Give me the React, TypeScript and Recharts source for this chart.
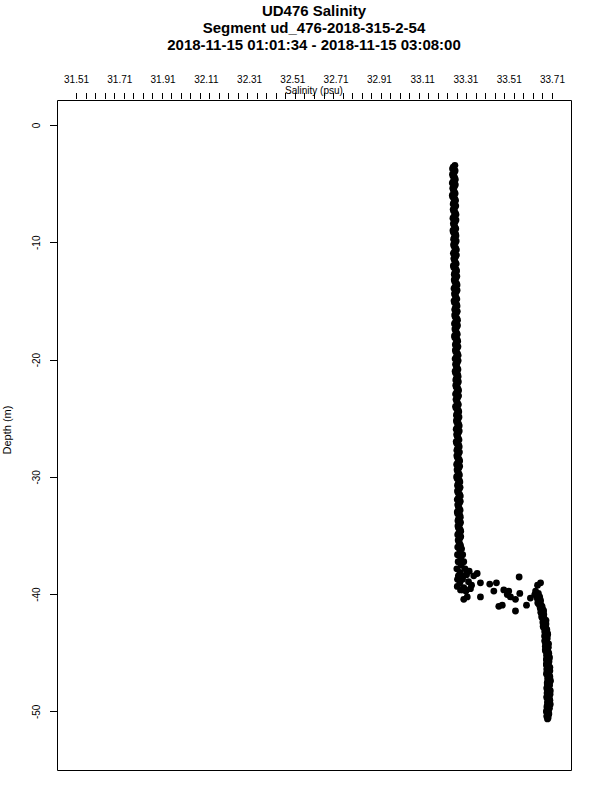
import { ScatterChart, Scatter, XAxis, YAxis, ReferenceArea } from 'recharts';

const titleLines = [
  'UD476 Salinity',
  'Segment ud_476-2018-315-2-54',
  '2018-11-15 01:01:34 - 2018-11-15 03:08:00'
];
const xTitle = 'Salinity (psu)';
const yTitle = 'Depth (m)';

const salinityLabels = [31.51, 31.71, 31.91, 32.11, 32.31, 32.51, 32.71, 32.91, 33.11, 33.31, 33.51, 33.71];
const depthTicks = [0, -10, -20, -30, -40, -50];

// upper mixed layer, nearly constant salinity (down cast)
const upperDepth = [
  -3.4, -3.7, -4.0, -4.3, -4.6, -4.9, -5.2, -5.5, -5.8, -6.1,
  -6.4, -6.7, -7.0, -7.3, -7.6, -7.9, -8.2, -8.5, -8.8, -9.1,
  -9.4, -9.7, -10.0, -10.3, -10.6, -10.9, -11.2, -11.5, -11.8, -12.1,
  -12.4, -12.7, -13.0, -13.3, -13.6, -13.9, -14.2, -14.5, -14.8, -15.1,
  -15.4, -15.7, -16.0, -16.3, -16.6, -16.9, -17.2, -17.5, -17.8, -18.1,
  -18.4, -18.7, -19.0, -19.3, -19.6, -19.9, -20.2, -20.5, -20.8, -21.1,
  -21.4, -21.7, -22.0, -22.3, -22.6, -22.9, -23.2, -23.5, -23.8, -24.1,
  -24.4, -24.7, -25.0, -25.3, -25.6, -25.9, -26.2, -26.5, -26.8, -27.1,
  -27.4, -27.7, -28.0, -28.3, -28.6, -28.9, -29.2, -29.5, -29.8, -30.1,
  -30.4, -30.7, -31.0, -31.3, -31.6, -31.9, -32.2, -32.5, -32.8, -33.1,
  -33.4, -33.7, -34.0, -34.3, -34.6, -34.9, -35.2, -35.5, -35.8
];
const upperSalinity = [
  33.259, 33.248, 33.256, 33.250, 33.261, 33.247, 33.257, 33.252, 33.260, 33.249,
  33.262, 33.251, 33.259, 33.253, 33.264, 33.250, 33.260, 33.255, 33.263, 33.252,
  33.264, 33.253, 33.261, 33.255, 33.266, 33.252, 33.262, 33.257, 33.265, 33.254,
  33.267, 33.256, 33.264, 33.258, 33.269, 33.255, 33.265, 33.260, 33.268, 33.257,
  33.269, 33.258, 33.266, 33.260, 33.271, 33.257, 33.267, 33.262, 33.270, 33.259,
  33.272, 33.261, 33.269, 33.263, 33.274, 33.260, 33.270, 33.265, 33.273, 33.262,
  33.274, 33.263, 33.271, 33.265, 33.276, 33.262, 33.272, 33.267, 33.275, 33.264,
  33.277, 33.266, 33.274, 33.268, 33.279, 33.265, 33.275, 33.270, 33.278, 33.267,
  33.279, 33.268, 33.276, 33.270, 33.281, 33.267, 33.277, 33.272, 33.280, 33.269,
  33.282, 33.271, 33.279, 33.273, 33.284, 33.270, 33.280, 33.275, 33.283, 33.272,
  33.284, 33.273, 33.281, 33.275, 33.286, 33.272, 33.282, 33.277, 33.285
];

// upper mixed layer (up cast)
const upperDepthB = [
  -3.55, -3.85, -4.15, -4.45, -4.75, -5.05, -5.35, -5.65, -5.95, -6.25,
  -6.55, -6.85, -7.15, -7.45, -7.75, -8.05, -8.35, -8.65, -8.95, -9.25,
  -9.55, -9.85, -10.15, -10.45, -10.75, -11.05, -11.35, -11.65, -11.95, -12.25,
  -12.55, -12.85, -13.15, -13.45, -13.75, -14.05, -14.35, -14.65, -14.95, -15.25,
  -15.55, -15.85, -16.15, -16.45, -16.75, -17.05, -17.35, -17.65, -17.95, -18.25,
  -18.55, -18.85, -19.15, -19.45, -19.75, -20.05, -20.35, -20.65, -20.95, -21.25,
  -21.55, -21.85, -22.15, -22.45, -22.75, -23.05, -23.35, -23.65, -23.95, -24.25,
  -24.55, -24.85, -25.15, -25.45, -25.75, -26.05, -26.35, -26.65, -26.95, -27.25,
  -27.55, -27.85, -28.15, -28.45, -28.75, -29.05, -29.35, -29.65, -29.95, -30.25,
  -30.55, -30.85, -31.15, -31.45, -31.75, -32.05, -32.35, -32.65, -32.95, -33.25,
  -33.55, -33.85, -34.15, -34.45, -34.75, -35.05, -35.35, -35.65, -35.95
];
const upperSalinityB = [
  33.251, 33.260, 33.248, 33.258, 33.252, 33.261, 33.249, 33.256, 33.247, 33.259,
  33.254, 33.263, 33.251, 33.261, 33.255, 33.264, 33.252, 33.259, 33.250, 33.262,
  33.256, 33.265, 33.253, 33.263, 33.257, 33.266, 33.254, 33.261, 33.252, 33.264,
  33.259, 33.268, 33.256, 33.266, 33.260, 33.269, 33.257, 33.264, 33.255, 33.267,
  33.261, 33.270, 33.258, 33.268, 33.262, 33.271, 33.259, 33.266, 33.257, 33.269,
  33.264, 33.273, 33.261, 33.271, 33.265, 33.274, 33.262, 33.269, 33.260, 33.272,
  33.266, 33.275, 33.263, 33.273, 33.267, 33.276, 33.264, 33.271, 33.262, 33.274,
  33.269, 33.278, 33.266, 33.276, 33.270, 33.279, 33.267, 33.274, 33.265, 33.277,
  33.271, 33.280, 33.268, 33.278, 33.272, 33.281, 33.269, 33.276, 33.267, 33.279,
  33.274, 33.283, 33.271, 33.281, 33.275, 33.284, 33.272, 33.279, 33.270, 33.282,
  33.276, 33.285, 33.273, 33.283, 33.277, 33.286, 33.274, 33.281, 33.272
];

// halocline, scattered readings
const mixDepth = [
  -36.0, -36.1, -36.3, -36.6, -36.6, -36.9, -37.2, -37.2, -37.5, -37.8,
  -37.8, -38.0, -38.1, -38.3, -38.4, -38.4, -38.7, -38.7, -38.9, -39.0,
  -39.2, -39.3, -39.4, -39.6, -39.7, -39.6, -39.5, -39.6,
  -38.2, -38.4, -39.0, -38.5, -39.1, -39.0, -39.7, -39.6, -39.7, -40.0,
  -40.2, -39.9, -40.4, -40.2, -40.2, -40.4, -41.0, -40.9, -41.4, -40.9,
  -40.3, -39.2, -39.0, -39.7, -39.9, -40.0
];
const mixSalinity = [
  33.276, 33.290, 33.283, 33.271, 33.295, 33.286, 33.274, 33.300, 33.288, 33.268,
  33.306, 33.325, 33.283, 33.313, 33.275, 33.300, 33.271, 33.294, 33.322, 33.282,
  33.336, 33.270, 33.300, 33.285, 33.310, 33.308, 33.331, 33.296,
  33.362, 33.346, 33.377, 33.556, 33.420, 33.451, 33.439, 33.485, 33.508, 33.501,
  33.516, 33.559, 33.539, 33.377, 33.316, 33.300, 33.462, 33.478, 33.539, 33.590,
  33.608, 33.641, 33.655, 33.632, 33.645, 33.628
];

// lower layer (down cast)
const lowerDepth = [
  -40.2, -40.4, -40.6, -40.8, -41.0, -41.2, -41.4, -41.6, -41.8, -42.0,
  -42.2, -42.4, -42.6, -42.8, -43.0, -43.2, -43.4, -43.6, -43.8, -44.0,
  -44.2, -44.4, -44.6, -44.8, -45.0, -45.2, -45.4, -45.6, -45.8, -46.0,
  -46.2, -46.4, -46.6, -46.8, -47.0, -47.2, -47.4, -47.6, -47.8, -48.0,
  -48.2, -48.4, -48.6, -48.8, -49.0, -49.2, -49.4, -49.6, -49.8, -50.0,
  -50.2, -50.4, -50.6
];
const lowerSalinity = [
  33.651, 33.642, 33.653, 33.646, 33.662, 33.655, 33.669, 33.659, 33.669, 33.663,
  33.680, 33.666, 33.678, 33.669, 33.684, 33.675, 33.688, 33.675, 33.684, 33.675,
  33.692, 33.677, 33.688, 33.678, 33.693, 33.683, 33.696, 33.683, 33.691, 33.682,
  33.698, 33.684, 33.694, 33.683, 33.698, 33.688, 33.700, 33.686, 33.694, 33.684,
  33.700, 33.685, 33.695, 33.684, 33.698, 33.687, 33.699, 33.685, 33.692, 33.682,
  33.693, 33.684, 33.687
];

// lower layer (up cast)
const lowerDepthB = [
  -40.3, -40.5, -40.7, -40.9, -41.1, -41.3, -41.5, -41.7, -41.9, -42.1,
  -42.3, -42.5, -42.7, -42.9, -43.1, -43.3, -43.5, -43.7, -43.9, -44.1,
  -44.3, -44.5, -44.7, -44.9, -45.1, -45.3, -45.5, -45.7, -45.9, -46.1,
  -46.3, -46.5, -46.7, -46.9, -47.1, -47.3, -47.5, -47.7, -47.9, -48.1,
  -48.3, -48.5, -48.7, -48.9, -49.1, -49.3, -49.5, -49.7, -49.9, -50.1,
  -50.3, -50.5
];
const lowerSalinityB = [
  33.640, 33.655, 33.642, 33.657, 33.653, 33.667, 33.656, 33.670, 33.660, 33.673,
  33.667, 33.680, 33.667, 33.681, 33.675, 33.687, 33.674, 33.686, 33.675, 33.686,
  33.679, 33.691, 33.677, 33.690, 33.684, 33.695, 33.682, 33.694, 33.682, 33.693,
  33.685, 33.698, 33.683, 33.695, 33.689, 33.700, 33.686, 33.697, 33.685, 33.695,
  33.687, 33.699, 33.684, 33.696, 33.689, 33.699, 33.685, 33.696, 33.683, 33.693,
  33.685, 33.690
];

const xDomain = [31.422, 33.798];
const yDomain = [-55, 2.13];

// 51 unlabelled ticks spread between the first and last label
const minorTicks = Array.from({ length: 51 }, (_, i) => +(31.51 + i * 0.044).toFixed(3));
const allTicks = Array.from(new Set([...minorTicks, ...salinityLabels])).sort((a, b) => a - b);

const toPoints = (depth: number[], sal: number[]) =>
  depth.map((d, i) => ({ depth: d, salinity: sal[i] }));

const FONT = '"Liberation Sans", Arial, Helvetica, sans-serif';

function SalinityTick({ x, payload }: any) {
  const v = payload.value;
  return (
    <g>
      {minorTicks.includes(v) && (
        <line x1={x} x2={x} y1={93} y2={99} stroke="#000" shapeRendering="crispEdges" />
      )}
      {salinityLabels.includes(v) && (
        <text x={x} y={83} textAnchor="middle" fontSize={10} fontFamily={FONT} fill="#000">
          {v.toFixed(2)}
        </text>
      )}
    </g>
  );
}

function DepthTick({ y, payload }: any) {
  return (
    <g>
      <line x1={50} x2={57} y1={y} y2={y} stroke="#000" shapeRendering="crispEdges" />
      <text
        x={40}
        y={y}
        transform={`rotate(-90, 40, ${y})`}
        textAnchor="middle"
        fontSize={10}
        fontFamily={FONT}
        fill="#000"
      >
        {payload.value}
      </text>
    </g>
  );
}

const dot = (p: any) => <circle cx={p.cx} cy={p.cy} r={3.4} fill="#000" />;

const series = [
  toPoints(upperDepth, upperSalinity),
  toPoints(upperDepthB, upperSalinityB),
  toPoints(mixDepth, mixSalinity),
  toPoints(lowerDepth, lowerSalinity),
  toPoints(lowerDepthB, lowerSalinityB)
];

export default function App() {
  return (
    <div style={{ position: 'absolute', left: 0, top: 0, width: 600, height: 800, background: '#fff' }}>
      <ScatterChart
        width={600}
        height={800}
        margin={{ top: 80.5, right: 28.5, bottom: 29.5, left: 37.5 }}
      >
        <XAxis
          type="number"
          dataKey="salinity"
          orientation="top"
          domain={xDomain}
          allowDataOverflow
          ticks={allTicks}
          interval={0}
          height={20}
          axisLine={false}
          tickLine={false}
          tick={(props: any) => <SalinityTick {...props} />}
        />
        <YAxis
          type="number"
          dataKey="depth"
          domain={yDomain}
          allowDataOverflow
          ticks={depthTicks}
          interval={0}
          width={20}
          axisLine={false}
          tickLine={false}
          tick={(props: any) => <DepthTick {...props} />}
        />
        <ReferenceArea
          x1={xDomain[0]}
          x2={xDomain[1]}
          y1={yDomain[0]}
          y2={yDomain[1]}
          fill="none"
          fillOpacity={0}
          stroke="#000"
          strokeWidth={1}
        />
        {series.map((d, i) => (
          <Scatter key={i} data={d} fill="#000" shape={dot} isAnimationActive={false} />
        ))}
      </ScatterChart>
      <svg
        width={600}
        height={800}
        style={{ position: 'absolute', left: 0, top: 0, pointerEvents: 'none' }}
      >
        {titleLines.map((t, i) => (
          <text
            key={t}
            x={314}
            y={16 + i * 17}
            textAnchor="middle"
            fontSize={15}
            fontWeight="bold"
            fontFamily={FONT}
            fill="#000"
          >
            {t}
          </text>
        ))}
        <text x={314} y={94} textAnchor="middle" fontSize={10} fontFamily={FONT} fill="#000">
          {xTitle}
        </text>
        <text
          x={11}
          y={430}
          transform="rotate(-90, 11, 430)"
          textAnchor="middle"
          fontSize={11}
          fontFamily={FONT}
          fill="#000"
        >
          {yTitle}
        </text>
      </svg>
    </div>
  );
}
